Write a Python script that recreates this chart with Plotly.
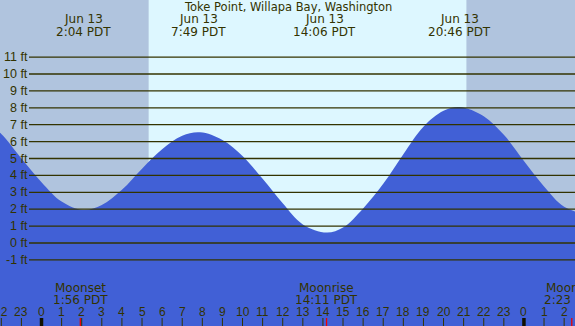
import plotly.graph_objects as go

# ---- data ----
tide_hours = [-2.5, -2, -1, 0, 1, 2.07, 3, 4, 5, 6, 7, 7.89, 9, 10, 11, 12, 13, 14.19,
              15, 16, 17, 18, 19, 20, 20.8, 22, 23, 24, 25, 26, 27.25]
tide_ft = [6.9, 6.45, 5.0, 3.6, 2.45, 1.95, 2.25, 3.15, 4.4, 5.55, 6.35, 6.55, 6.1, 5.15,
           3.8, 2.35, 1.1, 0.62, 0.92, 2.05, 3.5, 5.25, 6.88, 7.82, 8.05, 7.5, 6.4, 4.85,
           3.35, 2.15, 1.65]

extreme_hours = [2.07, 7.82, 14.1, 20.77, 27.25]
extreme_dates = ["Jun 13", "Jun 13", "Jun 13", "Jun 13", "Jun 14"]
extreme_times = ["2:04 PDT", "7:49 PDT", "14:06 PDT", "20:46 PDT", "3:15 PDT"]

moon_hours = [1.93, 14.18, 26.38]
moon_events = ["Moonset", "Moonrise", "Moonset"]
moon_times = ["1:56 PDT", "14:11 PDT", "2:23 PDT"]

sunrise_h = 5.33
sunset_h = 21.15
midnights = [0, 24]

level_ft = list(range(-1, 12))
level_labels = [f"{v} ft" for v in level_ft]

hour_ticks = list(range(-2, 27))
hour_labels = [str(h % 24) for h in hour_ticks]

title = "Toke Point, Willapa Bay, Washington"

# ---- styling ----
W, H = 575, 326
X0, X1 = -2.065, 26.54
Y0, Y1 = -4.91, 14.38
NIGHT = "#b0c4de"
DAY = "#ddf7ff"
WATER = "#4160d6"
TXT = "#333300"
FONT = "DejaVu Sans"
FONT2 = "Liberation Sans"
FS = 12


def py(px):
    """pixel row from top -> paper fraction"""
    return 1 - px / H


fig = go.Figure()

fig.add_trace(go.Scatter(x=[X0 - 1, X1 + 1], y=[Y0, Y0], mode="lines",
                         line=dict(width=0, color=WATER), hoverinfo="skip", showlegend=False))
fig.add_trace(go.Scatter(x=tide_hours, y=tide_ft, mode="lines", fill="tonexty",
                         fillcolor=WATER, line=dict(width=0, color=WATER, shape="spline", smoothing=1.0),
                         hoverinfo="skip", showlegend=False))

shapes = []
shapes.append(dict(type="rect", xref="x", yref="paper", x0=X0 - 1, x1=sunrise_h, y0=0, y1=1,
                   fillcolor=NIGHT, line=dict(width=0), layer="below"))
shapes.append(dict(type="rect", xref="x", yref="paper", x0=sunrise_h, x1=sunset_h, y0=0, y1=1,
                   fillcolor=DAY, line=dict(width=0), layer="below"))
shapes.append(dict(type="rect", xref="x", yref="paper", x0=sunset_h, x1=X1 + 1, y0=0, y1=1,
                   fillcolor=NIGHT, line=dict(width=0), layer="below"))
for v in level_ft:
    shapes.append(dict(type="line", xref="paper", yref="y", x0=29 / W, x1=1, y0=v, y1=v,
                       line=dict(color=TXT, width=1.3), layer="above"))

annotations = []


def txt(text, x, y, xref="x", xanchor="center", family=FONT, size=FS):
    annotations.append(dict(text=text, xref=xref, yref="paper", x=x, y=y,
                            yanchor="middle", xanchor=xanchor, showarrow=False,
                            borderpad=0, borderwidth=0,
                            font=dict(family=family, size=size, color=TXT)))


txt(title, 0.5, py(7.5), xref="paper", size=11.5)
for h, d, t in zip(extreme_hours, extreme_dates, extreme_times):
    txt(d, h, py(19.5))
    txt(t, h, py(31.5))
for h, e, t in zip(moon_hours, moon_events, moon_times):
    txt(e, h, py(287.5))
    txt(t, h, py(299.5))
for v, t in zip(level_ft, level_labels):
    annotations.append(dict(text=t, xref="paper", yref="y", x=28 / W, y=v,
                            yanchor="middle", xanchor="right", showarrow=False,
                            borderpad=0, borderwidth=0,
                            font=dict(family=FONT2, size=12.5, color=TXT)))
for h, t in zip(hour_ticks, hour_labels):
    txt(t, h, py(312), family=FONT2, size=12)
    shapes.append(dict(type="line", xref="x", yref="paper", x0=h, x1=h, y0=0, y1=8 / H,
                       line=dict(color=TXT, width=1), layer="above"))
for m in midnights:
    shapes.append(dict(type="line", xref="x", yref="paper", x0=m, x1=m, y0=0, y1=8 / H,
                       line=dict(color="#111100", width=3.5), layer="above"))
for m in moon_hours:
    shapes.append(dict(type="line", xref="x", yref="paper", x0=m, x1=m, y0=0, y1=8 / H,
                       line=dict(color="#ee0000", width=1.3), layer="above"))

fig.update_layout(
    width=W, height=H,
    margin=dict(l=0, r=0, t=0, b=0, pad=0),
    paper_bgcolor=NIGHT, plot_bgcolor=NIGHT,
    xaxis=dict(range=[X0, X1], visible=False, fixedrange=True),
    yaxis=dict(range=[Y0, Y1], visible=False, fixedrange=True),
    shapes=shapes, annotations=annotations,
    showlegend=False,
)

fig.write_html("out.html", config={"displayModeBar": False},
               post_script="document.body.style.margin='0';document.body.style.overflow='hidden';")
